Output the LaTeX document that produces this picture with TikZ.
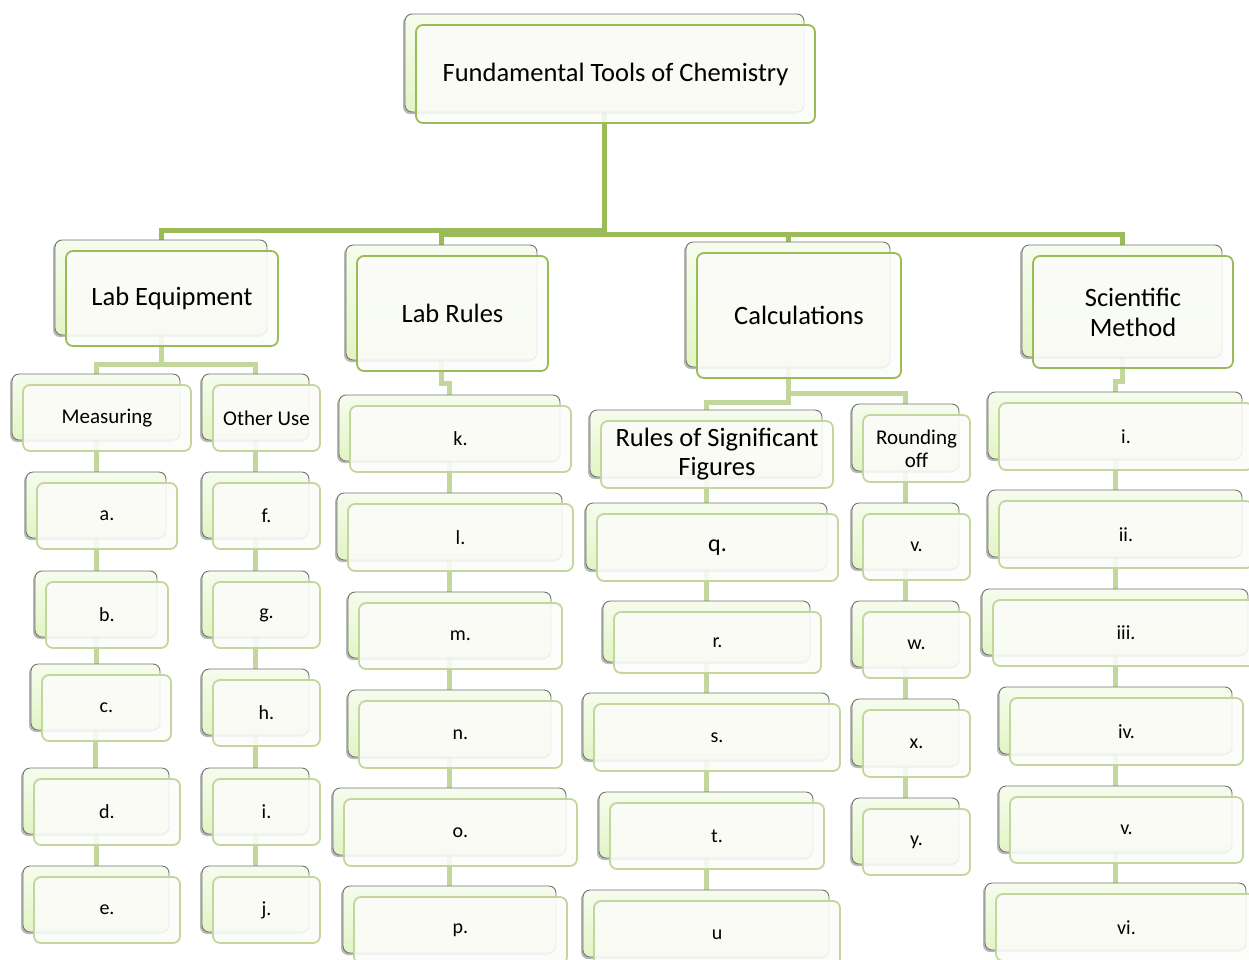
\documentclass[tikz,border=0pt]{standalone}
\usepackage{fontspec}
\setmainfont{Carlito}
\usetikzlibrary{shadows,backgrounds}
\definecolor{gdark}{HTML}{9BBB59}
\definecolor{glight}{HTML}{C3D69B}
\definecolor{bktop}{HTML}{F6FCEE}
\definecolor{bkbot}{HTML}{E2F5C4}
\definecolor{frontfill}{HTML}{FCFCFA}
\tikzset{
  backbox/.style={rectangle, rounded corners=7pt, draw=black!55, line width=0.9pt,
    top color=bktop, bottom color=bkbot, inner sep=0pt, outer sep=0pt,
    drop shadow={shadow xshift=-2pt, shadow yshift=-2pt, opacity=.28, fill=black}},
  frontbox/.style={rectangle, rounded corners=7pt, draw=glight, line width=1.8pt,
    fill=frontfill, fill opacity=.88, text opacity=1, inner sep=0pt, outer sep=0pt,
    align=center, font=\fontsize{20}{22}\selectfont},
  main/.style={draw=gdark, font=\fontsize{26.5}{30}\selectfont},
  sub/.style={font=\fontsize{21}{23}\selectfont},
  c1/.style={draw=gdark, line width=5pt},
  c2/.style={draw=glight, line width=5pt},
}
\newcommand\mybox[7]{%
  \pgfmathsetmacro\bxw{#4-#2}\pgfmathsetmacro\bxh{#5-#3}%
  \pgfmathsetmacro\bxx{(#2+#4)/2}\pgfmathsetmacro\bxy{(#3+#5)/2}%
  \node[backbox, minimum width=\bxw pt, minimum height=\bxh pt] (#1B) at (\bxx-11,\bxy-11) {};
  \node[frontbox, #6, minimum width=\bxw pt, minimum height=\bxh pt] (#1) at (\bxx,\bxy) {#7};
}
\begin{document}
\begin{tikzpicture}[x=1pt,y=-1pt]
\useasboundingbox (0,0) rectangle (1249,959);
% level 0 and 1
\mybox{top}{416}{25}{815}{123}{main}{Fundamental Tools of Chemistry}
\mybox{le}{66}{251}{278}{346}{main}{Lab Equipment}
\mybox{lr}{357}{256}{548}{371}{main}{Lab Rules}
\mybox{ca}{697}{253}{901}{378}{main}{Calculations}
\mybox{sm}{1033}{256}{1233}{368}{main}{Scientific\\Method}
% Lab equipment
\mybox{me}{23}{385}{191}{451}{sub}{Measuring}
\mybox{ou}{213}{385}{320}{451}{sub}{Other Use}
\mybox{a}{37}{483}{177}{549}{}{a.}
\mybox{b}{46}{582}{168}{648}{}{b.}
\mybox{c}{42}{675}{171}{741}{}{c.}
\mybox{d}{34}{779}{180}{845}{}{d.}
\mybox{e}{34}{877}{180}{943}{}{e.}
\mybox{f}{213}{483}{320}{549}{}{f.}
\mybox{g}{213}{582}{320}{648}{}{g.}
\mybox{h}{213}{680}{320}{746}{}{h.}
\mybox{i}{213}{779}{320}{845}{}{i.}
\mybox{j}{213}{877}{320}{943}{}{j.}
% Lab rules
\mybox{k}{350}{406}{571}{472}{}{k.}
\mybox{l}{348}{504}{573}{571}{}{l.}
\mybox{m}{359}{603}{562}{669}{}{m.}
\mybox{n}{359}{701}{562}{768}{}{n.}
\mybox{o}{344}{799}{577}{866}{}{o.}
\mybox{p}{354}{897}{567}{964}{}{p.}
% Calculations
\mybox{rs}{601}{421}{833}{488}{font=\fontsize{26.5}{29}\selectfont}{Rules of Significant\\Figures}
\mybox{ro}{863}{415}{970}{482}{sub}{Rounding\\off}
\mybox{q}{597}{514}{838}{581}{font=\fontsize{24}{26}\selectfont}{q.}
\mybox{r}{614}{612}{821}{673}{}{r.}
\mybox{s}{594}{704}{840}{771}{}{s.}
\mybox{t}{610}{803}{824}{869}{}{t.}
\mybox{u}{594}{901}{840}{968}{}{u}
\mybox{v}{863}{514}{970}{580}{}{v.}
\mybox{w}{863}{612}{970}{678}{}{w.}
\mybox{x}{863}{710}{970}{777}{}{x.}
\mybox{y}{863}{809}{970}{875}{}{y.}
% Scientific method
\mybox{s1}{999}{403}{1253}{470}{}{i.}
\mybox{s2}{999}{501}{1253}{568}{}{ii.}
\mybox{s3}{993}{600}{1259}{666}{}{iii.}
\mybox{s4}{1010}{698}{1243}{765}{}{iv.}
\mybox{s5}{1010}{797}{1243}{863}{}{v.}
\mybox{s6}{996}{894}{1257}{961}{}{vi.}
\begin{pgfonlayer}{background}
% level 1 connectors
\draw[c1] (topB.south) -- (topB.south |- 0,230) -| (leB.north);
\draw[c1] (topB.south) -- (topB.south |- 0,234) -| (lrB.north);
\draw[c1] (topB.south) -- (topB.south |- 0,234) -| (caB.north);
\draw[c1] (topB.south) -- (topB.south |- 0,234) -| (smB.north);
% lab equipment
\draw[c2] (leB.south) -- (leB.south |- 0,364) -| (meB.north);
\draw[c2] (leB.south) -- (leB.south |- 0,364) -| (ouB.north);
\draw[c2] (meB.south) -- (meB.south |- aB.north);
\draw[c2] (aB.south) -- (aB.south |- bB.north);
\draw[c2] (bB.south) -- (bB.south |- cB.north);
\draw[c2] (cB.south) -- (cB.south |- dB.north);
\draw[c2] (dB.south) -- (dB.south |- eB.north);
\draw[c2] (ouB.south) -- (ouB.south |- fB.north);
\draw[c2] (fB.south) -- (fB.south |- gB.north);
\draw[c2] (gB.south) -- (gB.south |- hB.north);
\draw[c2] (hB.south) -- (hB.south |- iB.north);
\draw[c2] (iB.south) -- (iB.south |- jB.north);
% lab rules
\draw[c2] (lrB.south) -- (lrB.south |- 0,383) -| (kB.north);
\draw[c2] (kB.south) -- (kB.south |- lB.north);
\draw[c2] (lB.south) -- (lB.south |- mB.north);
\draw[c2] (mB.south) -- (mB.south |- nB.north);
\draw[c2] (nB.south) -- (nB.south |- oB.north);
\draw[c2] (oB.south) -- (oB.south |- pB.north);
% calculations
\draw[c2] (caB.south) -- (caB.south |- 0,402) -| (rsB.north);
\draw[c2] (caB.south) -- (caB.south |- 0,393) -| (roB.north);
\draw[c2] (rsB.south) -- (rsB.south |- qB.north);
\draw[c2] (qB.south) -- (qB.south |- rB.north);
\draw[c2] (rB.south) -- (rB.south |- sB.north);
\draw[c2] (sB.south) -- (sB.south |- tB.north);
\draw[c2] (tB.south) -- (tB.south |- uB.north);
\draw[c2] (roB.south) -- (roB.south |- vB.north);
\draw[c2] (vB.south) -- (vB.south |- wB.north);
\draw[c2] (wB.south) -- (wB.south |- xB.north);
\draw[c2] (xB.south) -- (xB.south |- yB.north);
% scientific method
\draw[c2] (smB.south) -- (smB.south |- 0,381) -| (s1B.north);
\draw[c2] (s1B.south) -- (s1B.south |- s2B.north);
\draw[c2] (s2B.south) -- (s2B.south |- s3B.north);
\draw[c2] (s3B.south) -- (s3B.south |- s4B.north);
\draw[c2] (s4B.south) -- (s4B.south |- s5B.north);
\draw[c2] (s5B.south) -- (s5B.south |- s6B.north);
\end{pgfonlayer}
\end{tikzpicture}
\end{document}
